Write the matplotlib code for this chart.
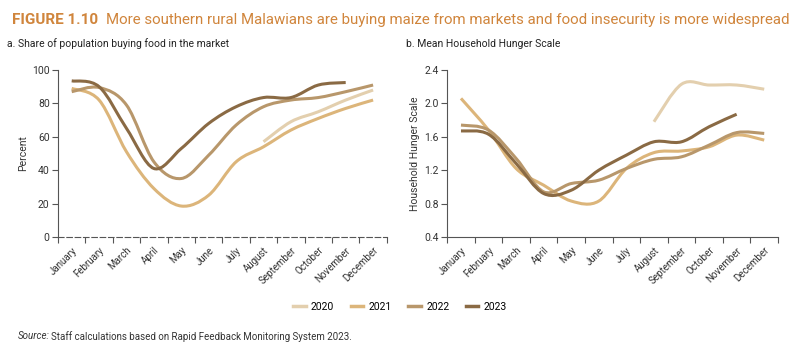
import numpy as np
import matplotlib
matplotlib.use("Agg")
import matplotlib.pyplot as plt
from matplotlib.path import Path
from matplotlib.patches import PathPatch
from matplotlib.lines import Line2D

plt.rcParams['font.family'] = ['Roboto', 'DejaVu Sans']

months = ["January", "February", "March", "April", "May", "June", "July",
          "August", "September", "October", "November", "December"]
years = ["2020", "2021", "2022", "2023"]
colors = ["#e3cfae", "#dcb57a", "#b8976b", "#8a6a44"]

nan = np.nan
# panel a: share of population buying food in the market (percent)
share_2020 = [nan, nan, nan, nan, nan, nan, nan, 57, 69, 75, 82, 88]
share_2021 = [89, 82, 51, 29, 18.5, 25, 45, 54, 64, 71, 77, 82]
share_2022 = [87, 89.5, 79, 45, 35, 49, 67, 78, 82, 83.5, 87, 91]
share_2023 = [93.5, 90, 65, 41, 53, 68, 78, 83.5, 83.5, 91, 92.5, nan]

# panel b: mean household hunger scale
hhs_2020 = [nan, nan, nan, nan, nan, nan, nan, 1.78, 2.23, 2.22, 2.22, 2.17]
hhs_2021 = [2.06, 1.68, 1.22, 1.02, 0.83, 0.83, 1.22, 1.41, 1.43, 1.48, 1.62, 1.56]
hhs_2022 = [1.74, 1.68, 1.34, 0.94, 1.04, 1.08, 1.22, 1.33, 1.36, 1.50, 1.65, 1.64]
hhs_2023 = [1.67, 1.63, 1.28, 0.92, 0.96, 1.20, 1.38, 1.54, 1.54, 1.72, 1.87, nan]


def smooth_line(ax, values, color):
    # smoothed line (like Excel's smoothed lines) drawn as a bezier path
    y = np.asarray(values, dtype=float)
    x = np.arange(len(y), dtype=float)
    ok = ~np.isnan(y)
    pts = np.column_stack([x[ok], y[ok]])
    n = len(pts)
    verts = [pts[0]]
    codes = [Path.MOVETO]
    for i in range(n - 1):
        p0 = pts[i - 1] if i > 0 else pts[i]
        p1 = pts[i]
        p2 = pts[i + 1]
        p3 = pts[i + 2] if i + 2 < n else pts[i + 1]
        c1 = p1 + (p2 - p0) / 6.0
        c2 = p2 - (p3 - p1) / 6.0
        verts += [c1, c2, p2]
        codes += [Path.CURVE4] * 3
    patch = PathPatch(Path(verts, codes), facecolor="none", edgecolor=color,
                      lw=2.2, capstyle="butt", joinstyle="round")
    ax.add_patch(patch)


def style_axis(ax, ylim, yticks, fmt):
    ax.set_xlim(-0.5, 11.5)
    ax.set_ylim(*ylim)
    ax.set_yticks(yticks)
    ax.set_yticklabels([fmt.format(v) for v in yticks], fontsize=7.5, color="#333333")
    ax.set_xticks(np.arange(-0.5, 12, 1))
    ax.set_xticklabels([])
    ax.set_xticks(np.arange(12), minor=True)
    ax.set_xticklabels(months, minor=True, rotation=45, ha="right",
                       rotation_mode="anchor", fontsize=7, color="#333333")
    ax.tick_params(axis="x", which="major", length=4, width=0.8, color="#555555")
    ax.tick_params(axis="x", which="minor", length=0, pad=6)
    ax.tick_params(axis="y", length=4, width=0.8, color="#555555", pad=2)
    for s in ["top", "right"]:
        ax.spines[s].set_visible(False)
    for s in ["left", "bottom"]:
        ax.spines[s].set_color("#555555")
        ax.spines[s].set_linewidth(0.8)


def text_after(fig, first, gap_px, s, **kw):
    # place a second text right after the first one
    r = fig.canvas.get_renderer()
    bb = first.get_window_extent(renderer=r)
    x = (bb.x1 + gap_px) / fig.bbox.width
    y = first.get_position()[1]
    return fig.text(x, y, s, **kw)


fig = plt.figure(figsize=(8, 3.59), dpi=100)
ax1 = fig.add_axes([0.0725, 0.340, 0.411, 0.465])
ax2 = fig.add_axes([0.559, 0.340, 0.4135, 0.465])

for vals, c in zip([share_2020, share_2021, share_2022, share_2023], colors):
    smooth_line(ax1, vals, c)
style_axis(ax1, (0, 100), [0, 20, 40, 60, 80, 100], "{:.0f}")
ax1.spines["bottom"].set_linestyle((0, (5, 2.5)))
ax1.set_ylabel("Percent", fontsize=7.5, color="#333333", labelpad=3)

for vals, c in zip([hhs_2020, hhs_2021, hhs_2022, hhs_2023], colors):
    smooth_line(ax2, vals, c)
style_axis(ax2, (0.4, 2.4), [0.4, 0.8, 1.2, 1.6, 2.0, 2.4], "{:.1f}")
ax2.set_ylabel("Household Hunger Scale", fontsize=7.5, color="#333333", labelpad=3)

# titles
t1 = fig.text(0.015, 0.945, "FIGURE 1.10", fontsize=11, fontweight="bold",
              color="#d0853c", va="center")
text_after(fig, t1, 8,
           "More southern rural Malawians are buying maize from markets and food insecurity is more widespread",
           fontsize=10.8, color="#d0853c", va="center")
fig.text(0.009, 0.878, "a. Share of population buying food in the market",
         fontsize=7.5, color="#222222", va="center")
fig.text(0.508, 0.878, "b. Mean Household Hunger Scale",
         fontsize=7.5, color="#222222", va="center")

handles = [Line2D([], [], color=c, lw=2.5) for c in colors]
fig.legend(handles, years, loc="center", bbox_to_anchor=(0.5, 0.145), ncol=4,
           frameon=False, fontsize=7.5, handlelength=1.2, handletextpad=0.5,
           columnspacing=1.6)

s1 = fig.text(0.022, 0.063, "Source:", fontsize=7, style="italic", color="#333333", va="center")
text_after(fig, s1, 2, "Staff calculations based on Rapid Feedback Monitoring System 2023.",
           fontsize=7, color="#333333", va="center")

fig.savefig("out.png", dpi=100)
